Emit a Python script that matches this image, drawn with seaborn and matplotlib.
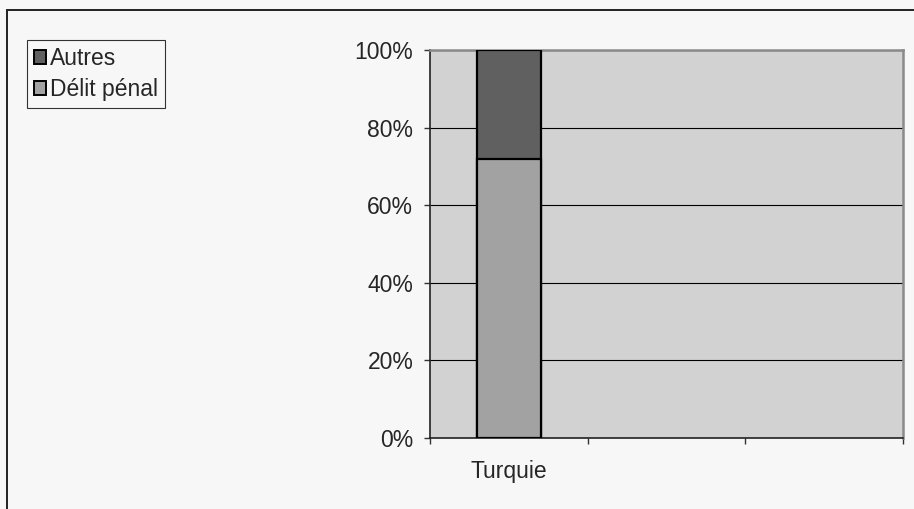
import matplotlib
matplotlib.use("Agg")
import matplotlib.pyplot as plt
from matplotlib.patches import Rectangle, Patch
from matplotlib.ticker import PercentFormatter
import seaborn as sns
import pandas as pd

# Share of each reason, per country (percent)
countries = ["Turquie", " ", "  "]
delit_penal = [72, None, None]
autres = [28, None, None]
series_names = ["Autres", "Délit pénal"]
y_ticks = [0, 20, 40, 60, 80, 100]

sns.set_theme(style="white")
plt.rcParams["font.family"] = ["Liberation Sans", "DejaVu Sans"]

fig_bg = "#f7f7f7"
plot_bg = "#d2d2d2"
col_autres = "#606060"
col_delit = "#a2a2a2"
fs = 16.5

fig = plt.figure(figsize=(9.14, 5.09), dpi=100, facecolor=fig_bg)
ax = fig.add_axes([430 / 914, 1 - 438 / 509, 473 / 914, 388 / 509])
ax.set_facecolor(plot_bg)

df = pd.DataFrame({"pays": countries, "delit": delit_penal, "autres": autres})
df["total"] = df["delit"] + df["autres"]

# stacked bars: the full column first, the lower segment drawn over it
sns.barplot(data=df, x="pays", y="total", order=countries, color=col_autres,
            width=0.41, edgecolor="black", linewidth=1.6, saturation=1, ax=ax, zorder=3)
sns.barplot(data=df, x="pays", y="delit", order=countries, color=col_delit,
            width=0.41, edgecolor="black", linewidth=1.6, saturation=1, ax=ax, zorder=4)

ax.set_xlim(-0.5, len(countries) - 0.5)
ax.set_ylim(0, 100)
ax.set_yticks(y_ticks)
ax.yaxis.set_major_formatter(PercentFormatter(decimals=0))
ax.yaxis.grid(True, color="black", linewidth=0.8, zorder=1)
ax.set_axisbelow(True)

# category boundaries carry the ticks, the name sits at the centre
ax.set_xticks([i - 0.5 for i in range(len(countries) + 1)])
ax.set_xticklabels([])
ax.set_xticks([0], minor=True)
ax.set_xticklabels([countries[0]], minor=True)
ax.tick_params(axis="x", which="major", direction="out", length=4, width=1, color="#333333", bottom=True)
ax.tick_params(axis="x", which="minor", length=0, pad=16, labelsize=fs)
ax.tick_params(axis="y", direction="out", length=4, width=1, color="#333333", left=True, labelsize=fs, pad=8)
ax.set_xlabel("")
ax.set_ylabel("")

for side in ["left", "bottom"]:
    ax.spines[side].set_color("#222222")
    ax.spines[side].set_linewidth(1.2)
for side in ["top", "right"]:
    ax.spines[side].set_color("#8a8a8a")
    ax.spines[side].set_linewidth(1.8)

handles = [Patch(facecolor=col_autres, edgecolor="black", linewidth=1.4),
           Patch(facecolor=col_delit, edgecolor="black", linewidth=1.4)]
leg = fig.legend(handles, series_names, loc="upper left",
                 bbox_to_anchor=(27 / 914, 1 - 40 / 509), frameon=True, fancybox=False,
                 fontsize=fs, handlelength=0.55, handleheight=0.55, handletextpad=0.15,
                 borderpad=0.3, labelspacing=0.35, borderaxespad=0)
leg.get_frame().set_edgecolor("black")
leg.get_frame().set_linewidth(0.8)
leg.get_frame().set_facecolor(fig_bg)

# outer chart frame
fig.patches.append(Rectangle((7 / 914, -0.05), 1.1, 1 - 10 / 509 + 0.05,
                             transform=fig.transFigure, fill=False,
                             edgecolor="#222222", linewidth=1.4, zorder=0))

fig.savefig("out.png", dpi=100, facecolor=fig_bg)
